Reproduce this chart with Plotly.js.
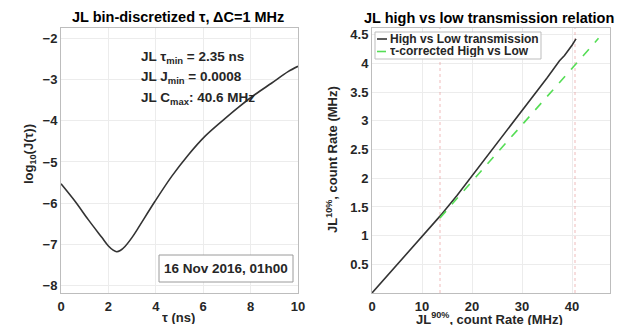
<!DOCTYPE html>
<html>
<head>
<meta charset="utf-8">
<script src="https://cdn.plot.ly/plotly-3.0.1.min.js"></script>
<style>html,body{margin:0;padding:0;background:#fff;}#chart{width:625px;height:326px;}</style>
</head>
<body>
<div id="chart"></div>
<script>
// ---- Data ----
const tau = [0, 0.6, 1.15, 1.72, 2.0, 2.2, 2.35, 2.5, 2.7, 3.0, 3.26, 3.96, 4.67, 5.37, 6.07, 6.77, 7.47, 8.17, 8.88, 9.58, 10];
const logJ = [-5.53, -5.96, -6.40, -6.83, -7.04, -7.14, -7.18, -7.15, -7.05, -6.83, -6.60, -5.96, -5.35, -4.83, -4.38, -4.02, -3.68, -3.37, -3.09, -2.81, -2.68];

const rateHigh = [0, 5, 10, 13.6, 17, 20, 25, 30, 35, 37.5, 38.5, 40, 40.8];
const rateLow  = [0, 0.49, 0.99, 1.34, 1.70, 2.04, 2.61, 3.18, 3.75, 4.05, 4.14, 4.32, 4.43];

const corrHigh = [13.6, 15, 17, 20, 25, 30, 35, 40, 45.3];
const corrLow  = [1.31, 1.45, 1.65, 1.94, 2.44, 2.93, 3.43, 3.92, 4.44];

const markerRates = [13.6, 40.6];

const xTicksL = [0, 2, 4, 6, 8, 10];
const yTicksL = [-8, -7, -6, -5, -4, -3, -2];
const xTicksR = [0, 10, 20, 30, 40];
const yTicksR = [0.5, 1, 1.5, 2, 2.5, 3, 3.5, 4, 4.5];

const legendNames = ['High vs Low transmission', 'τ-corrected High vs Low'];
const infoLines = ['JL τ<sub>min</sub> = 2.35 ns', 'JL J<sub>min</sub> = 0.0008', 'JL C<sub>max</sub>: 40.6 MHz'];
const dateLabel = '16 Nov 2016, 01h00';

// ---- helpers ----
const W = 625, H = 326;
const px = x => x / W;
const py = y => 1 - y / H;
const FONT = 'Liberation Sans, Arial, sans-serif';
const TXT = '#262626';
const tickFont = {family: FONT, size: 13, weight: 700, color: TXT};

const traces = [
  {x: tau, y: logJ, xaxis: 'x', yaxis: 'y', mode: 'lines',
   line: {color: '#333333', width: 1.6, shape: 'spline', smoothing: 0.9}, showlegend: false},
  {x: rateHigh, y: rateLow, xaxis: 'x2', yaxis: 'y2', mode: 'lines',
   line: {color: '#333333', width: 1.6}, name: legendNames[0], showlegend: false},
  {x: corrHigh, y: corrLow, xaxis: 'x2', yaxis: 'y2', mode: 'lines',
   line: {color: '#55dd55', width: 1.6, dash: 'dash'}, name: legendNames[1], showlegend: false}
];
markerRates.forEach(r => traces.unshift({
  x: [r, r], y: [0, 4.62], xaxis: 'x2', yaxis: 'y2', mode: 'lines',
  line: {color: 'rgba(225,120,120,0.5)', width: 1, dash: 'dot'}, showlegend: false, hoverinfo: 'skip'
}));

const axisCommon = {
  showline: true, mirror: true, linecolor: '#bdbdbd', linewidth: 1,
  showgrid: true, gridcolor: '#ececec', gridwidth: 1, zeroline: false,
  ticks: '', tickfont: tickFont, tickmode: 'array'
};

const annotations = [
  {text: 'JL bin-discretized τ, ΔC=1 MHz', x: px(178), y: py(17)},
  {text: 'JL high vs low transmission relation', x: px(489), y: py(18)},
].map(a => Object.assign({xref: 'paper', yref: 'paper', showarrow: false, xanchor: 'center', yanchor: 'middle',
  font: {family: FONT, size: 14.5, weight: 700, color: '#000'}}, a));

// axis titles
const axTitles = [
  {text: 'τ (ns)', x: px(178), y: py(317), height: 13},
  {text: 'JL<sup>90%</sup>, count Rate (MHz)', x: px(489), y: py(318), height: 13},
  {text: 'log<sub>10</sub>(J(τ))', x: px(30), y: py(154), textangle: -90},
  {text: 'JL<sup>10%</sup>, count Rate (MHz)', x: px(332), y: py(160), textangle: -90}
];
axTitles.forEach(a => annotations.push(Object.assign({xref: 'paper', yref: 'paper', showarrow: false,
  xanchor: 'center', yanchor: 'middle', font: {family: FONT, size: 13, weight: 700, color: TXT}}, a)));
// info text
const infoY = [58, 78, 98];
infoLines.forEach((t, i) => annotations.push({text: t, xref: 'paper', yref: 'paper', x: px(139), y: py(infoY[i]),
  xanchor: 'left', yanchor: 'middle', showarrow: false, font: {family: FONT, size: 13.5, weight: 700, color: TXT}}));
// date box text
annotations.push({text: dateLabel, xref: 'paper', yref: 'paper', x: px(226), y: py(268.5), xanchor: 'center', yanchor: 'middle',
  showarrow: false, font: {family: FONT, size: 13.5, weight: 700, color: TXT}});
// legend texts
const legY = [39, 51.5];
legendNames.forEach((t, i) => annotations.push({text: t, xref: 'paper', yref: 'paper', x: px(388), y: py(legY[i]),
  xanchor: 'left', yanchor: 'middle', height: 12, showarrow: false, font: {family: FONT, size: 12, weight: 700, color: TXT}}));

const shapes = [
  {type: 'rect', xref: 'paper', yref: 'paper', x0: px(159), x1: px(293), y0: py(282), y1: py(255),
   line: {color: '#9a9a9a', width: 1}, fillcolor: '#ffffff'},
  {type: 'rect', xref: 'paper', yref: 'paper', x0: px(375), x1: px(541), y0: py(59), y1: py(32),
   line: {color: '#bdbdbd', width: 1}, fillcolor: '#ffffff'},
  {type: 'line', xref: 'paper', yref: 'paper', x0: px(377), x1: px(387), y0: py(legY[0]), y1: py(legY[0]),
   line: {color: '#333333', width: 1.6}},
  {type: 'line', xref: 'paper', yref: 'paper', x0: px(377), x1: px(387), y0: py(legY[1]), y1: py(legY[1]),
   line: {color: '#55dd55', width: 1.6, dash: 'dash'}}
];

const layout = {
  width: W, height: H, margin: {l: 0, r: 0, t: 0, b: 0},
  paper_bgcolor: '#fff', plot_bgcolor: '#fff', showlegend: false,
  xaxis: Object.assign({}, axisCommon, {domain: [px(61), px(298)], range: [0, 10], tickvals: xTicksL, anchor: 'y', ticklabelstandoff: 1}),
  yaxis: Object.assign({}, axisCommon, {domain: [py(293), py(28)], range: [-8.18, -1.75], tickvals: yTicksL, anchor: 'x'}),
  xaxis2: Object.assign({}, axisCommon, {domain: [px(372), px(609.5)], range: [0, 47.5], tickvals: xTicksR, anchor: 'y2', ticklabelstandoff: 1}),
  yaxis2: Object.assign({}, axisCommon, {domain: [py(293), py(28)], range: [0, 4.62], tickvals: yTicksR, anchor: 'x2'}),
  annotations: annotations, shapes: shapes
};

Plotly.newPlot('chart', traces, layout, {staticPlot: true, displayModeBar: false});
</script>
</body>
</html>
